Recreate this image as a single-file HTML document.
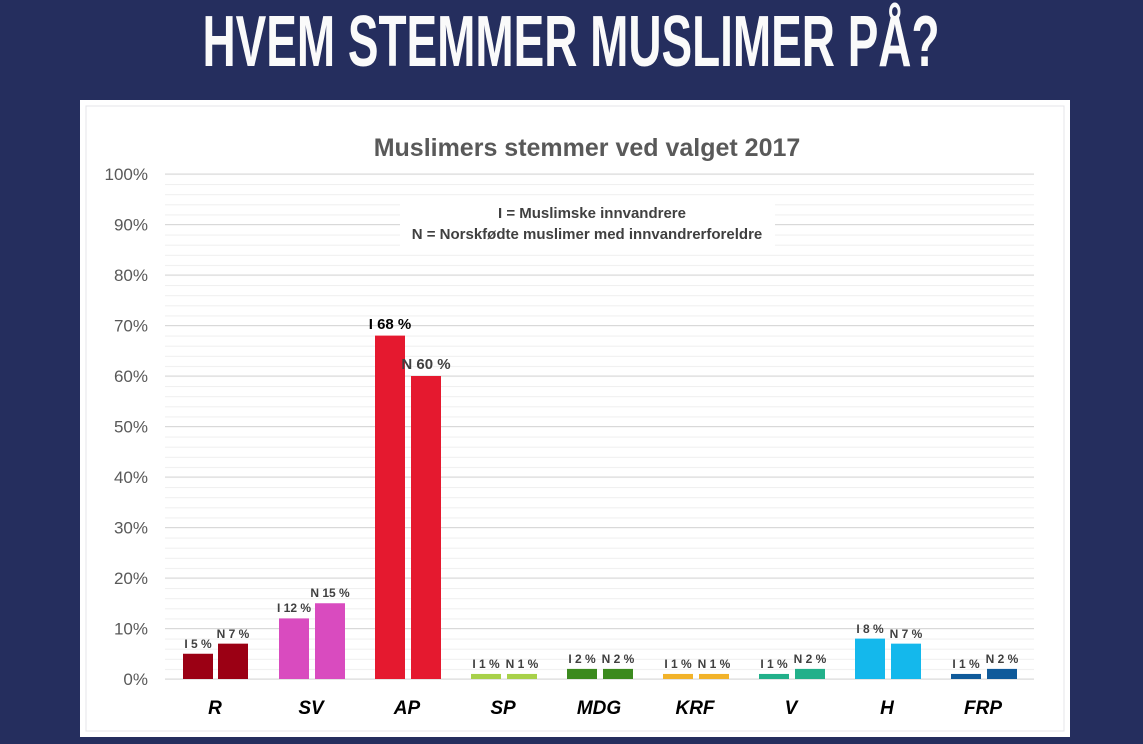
<!DOCTYPE html>
<html><head><meta charset="utf-8"><style>
html,body{margin:0;padding:0;background:#252e5e;width:1143px;height:744px;overflow:hidden}
</style></head><body>
<svg width="1143" height="744" xmlns="http://www.w3.org/2000/svg" font-family="Liberation Sans, sans-serif">
<defs>
<pattern id="mg" patternUnits="userSpaceOnUse" x="0" y="174" width="10" height="10.1">
<rect x="0" y="0" width="10" height="1" fill="#efefef"/>
</pattern>
</defs>
<rect width="1143" height="744" fill="#252e5e"/>
<text x="571" y="66" text-anchor="middle" fill="#fafafa" font-family="Liberation Sans Narrow, Liberation Sans, sans-serif" font-weight="bold" font-size="72" textLength="737" lengthAdjust="spacingAndGlyphs">HVEM STEMMER MUSLIMER PÅ?</text>
<rect x="80" y="100" width="990" height="637" fill="#fff"/>
<rect x="86" y="106" width="978" height="625" fill="none" stroke="#e4e4e8" stroke-width="1"/>
<text x="587" y="156" text-anchor="middle" fill="#595959" font-weight="bold" font-size="25">Muslimers stemmer ved valget 2017</text>
<rect x="165" y="174" width="869" height="506" fill="url(#mg)"/>
<g stroke="#d9d9d9" stroke-width="1">
<line x1="165" x2="1034" y1="679" y2="679"/><line x1="165" x2="1034" y1="628.5" y2="628.5"/>
<line x1="165" x2="1034" y1="578" y2="578"/><line x1="165" x2="1034" y1="527.5" y2="527.5"/>
<line x1="165" x2="1034" y1="477" y2="477"/><line x1="165" x2="1034" y1="426.5" y2="426.5"/>
<line x1="165" x2="1034" y1="376" y2="376"/><line x1="165" x2="1034" y1="325.5" y2="325.5"/>
<line x1="165" x2="1034" y1="275" y2="275"/><line x1="165" x2="1034" y1="224.5" y2="224.5"/>
<line x1="165" x2="1034" y1="174" y2="174"/>
</g>
<rect x="400" y="199" width="375" height="47" fill="#fff"/>
<text x="592" y="218" text-anchor="middle" fill="#404040" font-weight="bold" font-size="15">I = Muslimske innvandrere</text>
<text x="587" y="239" text-anchor="middle" fill="#404040" font-weight="bold" font-size="15">N = Norskfødte muslimer med innvandrerforeldre</text>
<g fill="#595959" font-size="17" text-anchor="end">
<text x="148" y="685">0%</text><text x="148" y="634.5">10%</text><text x="148" y="584">20%</text>
<text x="148" y="533.5">30%</text><text x="148" y="483">40%</text><text x="148" y="432.5">50%</text>
<text x="148" y="382">60%</text><text x="148" y="331.5">70%</text><text x="148" y="281">80%</text>
<text x="148" y="230.5">90%</text><text x="148" y="180">100%</text>
</g>
<rect x="183" y="653.75" width="30" height="25.25" fill="#9b0014"/><rect x="218" y="643.65" width="30" height="35.35" fill="#9b0014"/>
<rect x="279" y="618.4" width="30" height="60.6" fill="#d94bbf"/><rect x="315" y="603.25" width="30" height="75.75" fill="#d94bbf"/>
<rect x="375" y="335.6" width="30" height="343.4" fill="#e5192f"/><rect x="411" y="376" width="30" height="303" fill="#e5192f"/>
<rect x="471" y="673.95" width="30" height="5.05" fill="#a8d14a"/><rect x="507" y="673.95" width="30" height="5.05" fill="#a8d14a"/>
<rect x="567" y="668.9" width="30" height="10.1" fill="#3b8a1e"/><rect x="603" y="668.9" width="30" height="10.1" fill="#3b8a1e"/>
<rect x="663" y="673.95" width="30" height="5.05" fill="#f2b32a"/><rect x="699" y="673.95" width="30" height="5.05" fill="#f2b32a"/>
<rect x="759" y="673.95" width="30" height="5.05" fill="#22b08a"/><rect x="795" y="668.9" width="30" height="10.1" fill="#22b08a"/>
<rect x="855" y="638.6" width="30" height="40.4" fill="#14b8ec"/><rect x="891" y="643.65" width="30" height="35.35" fill="#14b8ec"/>
<rect x="951" y="673.95" width="30" height="5.05" fill="#0f5a9a"/><rect x="987" y="668.9" width="30" height="10.1" fill="#0f5a9a"/>
<g fill="#404040" font-weight="bold" font-size="12" text-anchor="middle">
<text x="198" y="648">I 5 %</text><text x="233" y="638">N 7 %</text>
<text x="294" y="612">I 12 %</text><text x="330" y="597">N 15 %</text>
<text x="486" y="668">I 1 %</text><text x="522" y="668">N 1 %</text>
<text x="582" y="663">I 2 %</text><text x="618" y="663">N 2 %</text>
<text x="678" y="668">I 1 %</text><text x="714" y="668">N 1 %</text>
<text x="774" y="668">I 1 %</text><text x="810" y="663">N 2 %</text>
<text x="870" y="633">I 8 %</text><text x="906" y="638">N 7 %</text>
<text x="966" y="668">I 1 %</text><text x="1002" y="663">N 2 %</text>
</g>
<text x="390" y="329" text-anchor="middle" fill="#000" font-weight="bold" font-size="15">I 68 %</text>
<text x="426" y="369" text-anchor="middle" fill="#404040" font-weight="bold" font-size="15">N 60 %</text>
<g fill="#000" font-weight="bold" font-style="italic" font-size="19" text-anchor="middle">
<text x="215" y="714">R</text><text x="311" y="714">SV</text><text x="407" y="714">AP</text>
<text x="503" y="714">SP</text><text x="599" y="714">MDG</text><text x="695" y="714">KRF</text>
<text x="791" y="714">V</text><text x="887" y="714">H</text><text x="983" y="714">FRP</text>
</g>
</svg>
</body></html>
